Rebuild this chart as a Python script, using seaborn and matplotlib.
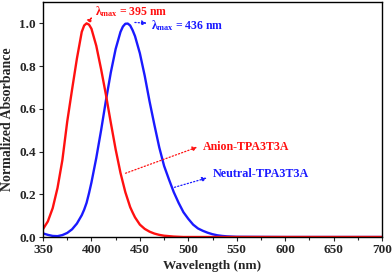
import matplotlib
matplotlib.use("Agg")
import matplotlib.pyplot as plt
import seaborn as sns
import pandas as pd

wavelength = [350, 355, 360, 365, 370, 375, 380, 385, 390, 392.5, 395, 397.5,
              400, 405, 410, 415, 420, 425, 430, 432.5, 435, 437.5, 440, 442.5,
              445, 450, 455, 460, 465, 470, 475, 480, 485, 490, 495, 500, 505,
              510, 515, 520, 525, 530, 535, 540, 545, 550, 600, 650, 700]
anion = [0.037, 0.073, 0.135, 0.230, 0.360, 0.540, 0.690, 0.835, 0.960, 0.990,
         1.000, 0.994, 0.975, 0.895, 0.785, 0.665, 0.535, 0.410, 0.300, 0.255,
         0.210, 0.175, 0.140, 0.115, 0.092, 0.058, 0.038, 0.025, 0.016, 0.010,
         0.006, 0.004, 0.002, 0.001, 0.0, 0.0, 0.0, 0.0, 0.0, 0.0, 0.0, 0.0,
         0.0, 0.0, 0.0, 0.0, 0.0, 0.0, 0.0]
neutral = [0.017, 0.010, 0.005, 0.004, 0.009, 0.019, 0.036, 0.063, 0.102, 0.128,
           0.160, 0.205, 0.255, 0.370, 0.500, 0.640, 0.770, 0.880, 0.960, 0.985,
           0.998, 0.999, 0.990, 0.968, 0.940, 0.860, 0.755, 0.635, 0.525, 0.420,
           0.333, 0.270, 0.210, 0.160, 0.116, 0.085, 0.058, 0.040, 0.029, 0.020,
           0.013, 0.008, 0.005, 0.003, 0.002, 0.001, 0.0, 0.0, 0.0]
series_names = ["Neutral-TPA3T3A", "Anion-TPA3T3A"]
x_ticks = [350, 400, 450, 500, 550, 600, 650, 700]
y_ticks = [0.0, 0.2, 0.4, 0.6, 0.8, 1.0]

RED = "#ff1010"
BLUE = "#1a1aff"

sns.set_style("ticks")
plt.rcParams["font.family"] = ["Liberation Serif", "DejaVu Serif"]
plt.rcParams["font.weight"] = "bold"
plt.rcParams["mathtext.fontset"] = "custom"
plt.rcParams["mathtext.rm"] = "Liberation Serif:bold"
plt.rcParams["mathtext.bf"] = "Liberation Serif:bold"
plt.rcParams["mathtext.it"] = "Liberation Serif:bold"

df = pd.DataFrame({
    "Wavelength": wavelength * 2,
    "Abs": neutral + anion,
    "Sample": [series_names[0]] * len(wavelength) + [series_names[1]] * len(wavelength),
})

fig = plt.figure(figsize=(3.92, 2.76), dpi=100)
ax = fig.add_axes([0.1097, 0.1413, 0.8648, 0.8515])
sns.lineplot(data=df, x="Wavelength", y="Abs", hue="Sample",
             palette={series_names[0]: BLUE, series_names[1]: RED},
             linewidth=1.7, legend=False, ax=ax, sort=False)

ax.set_xlim(350, 700)
ax.set_ylim(0, 1.1)
ax.set_xticks(x_ticks)
ax.set_xticks([375, 425, 475, 525, 575, 625, 675], minor=True)
ax.set_yticks(y_ticks)
ax.set_yticklabels([f"{v:.1f}" for v in y_ticks])
ax.tick_params(axis="both", which="major", direction="out", length=3, width=0.8,
               labelsize=9.5, pad=2)
ax.tick_params(axis="x", which="minor", direction="out", length=2, width=0.8)
for lab in ax.get_xticklabels() + ax.get_yticklabels():
    lab.set_fontweight("bold")
for s in ax.spines.values():
    s.set_visible(True)
    s.set_linewidth(1.0)
    s.set_color("black")
ax.set_xlabel("Wavelength (nm)", fontsize=9.5, fontweight="bold", labelpad=3)
ax.set_ylabel("Normalized Absorbance", fontsize=10, fontweight="bold", labelpad=4)

arrow_red = dict(arrowstyle="-|>", color=RED, lw=0.9, linestyle=":", mutation_scale=7)
arrow_blue = dict(arrowstyle="-|>", color=BLUE, lw=0.9, linestyle=":", mutation_scale=7)

ax.annotate("", xy=(402.5, 1.04), xytext=(397.5, 1.01), arrowprops=arrow_red)
ax.text(403.5, 1.055, r"$\lambda_{max}$ = 395 nm", color=RED, fontsize=8.5,
        fontweight="bold", va="center", ha="left")

ax.annotate("", xy=(460, 1.0), xytext=(442, 1.005), arrowprops=arrow_blue)
ax.text(462, 0.99, r"$\lambda_{max}$ = 436 nm", color=BLUE, fontsize=8.5,
        fontweight="bold", va="center", ha="left")

ax.annotate("", xy=(512, 0.425), xytext=(432.5, 0.294), arrowprops=arrow_red)
ax.text(515, 0.42, series_names[1], color=RED, fontsize=8.6, fontweight="bold",
        va="center", ha="left")

ax.annotate("", xy=(522, 0.28), xytext=(483, 0.229), arrowprops=arrow_blue)
ax.text(525.5, 0.294, series_names[0], color=BLUE, fontsize=8.7, fontweight="bold",
        va="center", ha="left")

fig.savefig("out.png", dpi=100)
